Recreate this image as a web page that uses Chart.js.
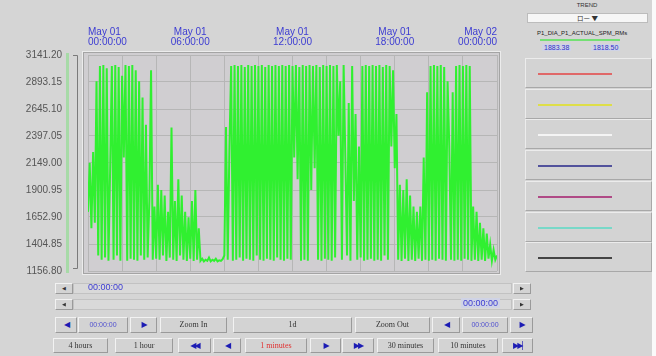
<!DOCTYPE html>
<html lang="ja">
<head>
<meta charset="UTF-8">
<title>Trend</title>
<script src="https://cdn.jsdelivr.net/npm/chart.js"></script>
<style>
  body { margin:0; width:656px; height:356px; background:#d5d5d5; overflow:hidden; position:relative;
         font-family:"Liberation Sans", Arial, sans-serif; }
  .abs { position:absolute; }
  #trend { position:absolute; left:0; top:0; }
  .btn { position:absolute; box-sizing:border-box; background:#d3d3d3; border:1px solid;
         border-color:#f2f2f2 #9a9a9a #9a9a9a #f2f2f2; text-align:center; color:#333;
         font-family:"Liberation Serif", serif; font-size:8px; }
  .arr { color:#1c1cb4; font-family:"DejaVu Sans", sans-serif; font-size:8px; letter-spacing:-2px; }
  .sarr { color:#333; font-family:"DejaVu Sans", sans-serif; font-size:5px; }
  .track { position:absolute; box-sizing:border-box; background:#d9d9d9; border:1px solid #c2c2c2; }
  .blue { color:#3c3cd2; font-size:9px; position:absolute; }
  .pen { position:absolute; left:525px; width:127px; height:30px; box-sizing:border-box;
         border:1px solid; border-color:#ececec #a8a8a8 #a8a8a8 #ececec; background:#d3d3d3; }
  .pen i { position:absolute; left:12px; top:14px; width:74px; height:2px; }
</style>
</head>
<body>
<canvas id="trend" width="520" height="303"></canvas>

<!-- right panel -->
<div class="abs" style="left:522px;top:2px;width:130px;text-align:center;font-size:6px;color:#333">TREND</div>
<div class="abs" style="left:527px;top:13px;width:121px;height:10px;background:#f6f6f6;border:1px solid #bcbcbc;box-sizing:border-box;text-align:center;font-size:6.5px;line-height:9px;color:#333;font-family:'Noto Sans CJK JP',sans-serif">ロー ▼</div>
<div class="abs" style="left:537px;top:30px;font-size:6px;color:#222">P1_DIA_P1_ACTUAL_SPM_RMs</div>
<div class="abs" style="left:540px;top:39px;width:80px;height:2px;background:#74e074"></div>
<div class="abs" style="left:542px;top:44px;font-size:7px;color:#2e2ec8;background:#cfd3e6;padding:0 2px">1883.38</div>
<div class="abs" style="left:591px;top:44px;font-size:7px;color:#2e2ec8;background:#cfd3e6;padding:0 2px">1818.50</div>
<div id="pens"></div>
<div class="abs" style="left:652px;top:0;width:4px;height:356px;background:#fafafa"></div>

<!-- scroll rows -->
<div class="btn sarr" style="left:55px;top:283px;width:18px;height:11px;line-height:9px">◀</div>
<div class="track" style="left:73px;top:283px;width:439px;height:11px"></div>
<div class="blue" style="left:88px;top:282px">00:00:00</div>
<div class="btn sarr" style="left:513px;top:283px;width:18px;height:11px;line-height:9px">▶</div>

<div class="btn sarr" style="left:55px;top:299px;width:18px;height:11px;line-height:9px">◀</div>
<div class="track" style="left:73px;top:299px;width:439px;height:11px"></div>
<div class="blue" style="left:461px;top:298px;background:#cfd3e6;padding:0 2px">00:00:00</div>
<div class="btn sarr" style="left:513px;top:299px;width:18px;height:11px;line-height:9px">▶</div>

<!-- row 3 -->
<div class="btn arr" style="left:55px;top:317px;width:22px;height:16px;line-height:14px">◀</div>
<div class="btn" style="left:78px;top:317px;width:50px;height:16px;line-height:14px;color:#5050d0;font-family:'Liberation Sans';font-size:7px">00:00:00</div>
<div class="btn arr" style="left:130px;top:317px;width:27px;height:16px;line-height:14px">▶</div>
<div class="btn" style="left:160px;top:317px;width:67px;height:16px;line-height:14px">Zoom In</div>
<div class="btn" style="left:233px;top:317px;width:119px;height:16px;line-height:14px">1d</div>
<div class="btn" style="left:355px;top:317px;width:75px;height:16px;line-height:14px">Zoom Out</div>
<div class="btn arr" style="left:432px;top:317px;width:28px;height:16px;line-height:14px">◀</div>
<div class="btn" style="left:462px;top:317px;width:46px;height:16px;line-height:14px;color:#5050d0;font-family:'Liberation Sans';font-size:7px">00:00:00</div>
<div class="btn arr" style="left:510px;top:317px;width:23px;height:16px;line-height:14px">▶</div>

<!-- row 4 -->
<div class="btn" style="left:53px;top:338px;width:55px;height:15px;line-height:13px">4 hours</div>
<div class="btn" style="left:115px;top:338px;width:58px;height:15px;line-height:13px">1 hour</div>
<div class="btn arr" style="left:178px;top:338px;width:33px;height:15px;line-height:13px">◀◀</div>
<div class="btn arr" style="left:213px;top:338px;width:28px;height:15px;line-height:13px">◀</div>
<div class="btn" style="left:245px;top:338px;width:62px;height:15px;line-height:13px;color:#e03030">1 minutes</div>
<div class="btn arr" style="left:310px;top:338px;width:31px;height:15px;line-height:13px">▶</div>
<div class="btn arr" style="left:342px;top:338px;width:32px;height:15px;line-height:13px">▶▶</div>
<div class="btn" style="left:377px;top:338px;width:57px;height:15px;line-height:13px">30 minutes</div>
<div class="btn" style="left:438px;top:338px;width:60px;height:15px;line-height:13px">10 minutes</div>
<div class="btn arr" style="left:502px;top:338px;width:31px;height:15px;line-height:13px">▶▶|</div>

<script>
// pen values sampled every 6 minutes from May 01 00:00 to May 02 00:00
const stepMinutes = 6;
const rpmValues = [
  1700, 2150, 1550, 2250, 1600, 2900, 1300, 3040, 1260, 3050,
  1280, 3020, 1250, 2100, 3040, 1260, 3050, 1300, 3030, 1250,
  2950, 2200, 3050, 1250, 3040, 1270, 3050, 1260, 3000, 1250,
  2900, 1300, 2750, 1260, 2500, 1280, 1800, 3000, 1260, 1750,
  1270, 1950, 1260, 1900, 1300, 1850, 1250, 1700, 1280, 2475,
  1260, 1800, 1250, 2000, 1300, 1850, 1260, 1700, 1250, 1650,
  1270, 1800, 1250, 1900, 1260, 1550, 1250, 1270, 1245, 1260,
  1250, 1280, 1245, 1260, 1250, 1270, 1245, 1255, 1250, 1265,
  1300, 2480, 1260, 2300, 3040, 1250, 3050, 1260, 3040, 1280,
  3050, 1250, 3030, 1270, 3050, 1260, 3040, 1250, 3050, 1300,
  3040, 1260, 3050, 1250, 3030, 1270, 3050, 1260, 3040, 1250,
  3050, 1280, 3040, 1260, 3050, 1250, 3040, 1270, 3050, 1260,
  3040, 2200, 3050, 2000, 3030, 1250, 3050, 1260, 3040, 1250,
  3050, 1900, 3040, 2100, 3050, 1260, 3030, 1250, 3050, 1270,
  3040, 1260, 3050, 1250, 3040, 1280, 3050, 2400, 2900, 1260,
  3050, 2200, 1300, 2700, 1250, 3040, 1800, 2600, 1260, 2300,
  1280, 3040, 1250, 3050, 1260, 3040, 1270, 3050, 1250, 3040,
  1260, 3050, 1250, 3030, 1300, 3050, 1260, 3040, 2300, 3000,
  2100, 2600, 1260, 1950, 1250, 1900, 1270, 2000, 1250, 1850,
  1260, 1750, 1250, 1700, 1270, 1750, 1250, 2200, 1260, 2800,
  1250, 3040, 1260, 3050, 1250, 3040, 1270, 3050, 1260, 3030,
  1250, 2900, 2300, 1260, 2800, 1250, 3040, 1260, 3050, 1250,
  3040, 1270, 3050, 1260, 3040, 1250, 1750, 1260, 1700, 1250,
  1600, 1260, 1550, 1250, 1500, 1270, 1400, 1250, 1350, 1260,
  1300
];
const yTicks = [1156.80, 1404.85, 1652.90, 1900.95, 2149.00, 2397.05, 2645.10, 2893.15, 3141.20];
const gridMinutes = [0, 120, 240, 360, 480, 600, 720, 840, 960, 1080, 1200, 1320, 1440];
const labelMinutes = [0, 360, 720, 1080, 1440];
const dayLabels = ['May 01', 'May 01', 'May 01', 'May 01', 'May 02'];
const timeLabels = ['00:00:00', '06:00:00', '12:00:00', '18:00:00', '00:00:00'];
const penColors = ['#e06868', '#dede48', '#f4f4f4', '#52529c', '#b04a86', '#78d8c8', '#444444'];

const pens = document.getElementById('pens');
penColors.forEach(function (c, k) {
  const d = document.createElement('div');
  d.className = 'pen';
  d.style.top = (58 + k * 30.7) + 'px';
  d.innerHTML = '<i style="background:' + c + '"></i>';
  pens.appendChild(d);
});

const plotFrame = {
  id: 'plotFrame',
  beforeDraw(chart) {
    const ctx = chart.ctx, a = chart.chartArea;
    ctx.save();
    ctx.fillStyle = '#d0ced1';
    ctx.fillRect(a.left - 4, a.top - 2, a.width + 6, a.height + 4);
    // faint pen colour strip and left scale bracket
    ctx.fillStyle = 'rgba(110,225,110,0.45)';
    ctx.fillRect(66, a.top - 2, 3, a.height + 4);
    ctx.strokeStyle = '#7a7a7a';
    ctx.lineWidth = 1;
    ctx.beginPath();
    ctx.moveTo(73, a.top + 0.5); ctx.lineTo(77.5, a.top + 0.5); ctx.lineTo(77.5, a.bottom - 2.5); ctx.lineTo(73, a.bottom - 2.5);
    ctx.stroke();
    ctx.restore();
  },
  afterDraw(chart) {
    const ctx = chart.ctx, a = chart.chartArea;
    ctx.save();
    ctx.strokeStyle = '#a4a4a4';
    ctx.lineWidth = 1;
    ctx.strokeRect(a.left - 4.5, a.top - 2.5, a.width + 7, a.height + 5);
    ctx.strokeStyle = '#ececec';
    ctx.strokeRect(a.left - 5.5, a.top - 3.5, a.width + 9, a.height + 7);
    ctx.restore();
  }
};

new Chart(document.getElementById('trend'), {
  type: 'line',
  data: {
    datasets: [{
      label: 'P1_DIA_P1_ACTUAL_SPM_RMs',
      data: rpmValues.map(function (v, i) { return { x: i * stepMinutes, y: v }; }),
      borderColor: '#30f030',
      borderWidth: 2,
      pointRadius: 0,
      tension: 0
    }]
  },
  options: {
    responsive: false,
    animation: false,
    layout: { padding: { left: 0, right: 23, top: 0, bottom: 10 } },
    plugins: { legend: { display: false }, tooltip: { enabled: false } },
    scales: {
      x: {
        type: 'linear',
        position: 'top',
        min: 0,
        max: 1440,
        afterBuildTicks: function (s) { s.ticks = gridMinutes.map(function (v) { return { value: v }; }); },
        afterFit: function (s) { s.height = 55; },
        grid: { color: '#b6b6b6', drawTicks: false },
        border: { display: false },
        ticks: {
          autoSkip: false,
          maxRotation: 0,
          align: 'inner',
          padding: 8,
          color: '#3c3cd2',
          font: { family: '"Liberation Sans", Arial, sans-serif', size: 10, lineHeight: 1.0 },
          callback: function (v) {
            const k = labelMinutes.indexOf(v);
            return k >= 0 ? [dayLabels[k], timeLabels[k]] : '';
          }
        }
      },
      y: {
        min: yTicks[0],
        max: yTicks[yTicks.length - 1],
        afterBuildTicks: function (s) { s.ticks = yTicks.map(function (v) { return { value: v }; }); },
        afterFit: function (s) { s.width = 88; },
        grid: { color: '#b6b6b6', drawTicks: false },
        border: { display: false },
        ticks: {
          padding: 26,
          color: '#555',
          font: { family: '"Liberation Sans", Arial, sans-serif', size: 10 },
          callback: function (v) { return v.toFixed(2); }
        }
      }
    }
  },
  plugins: [plotFrame]
});
</script>
</body>
</html>
